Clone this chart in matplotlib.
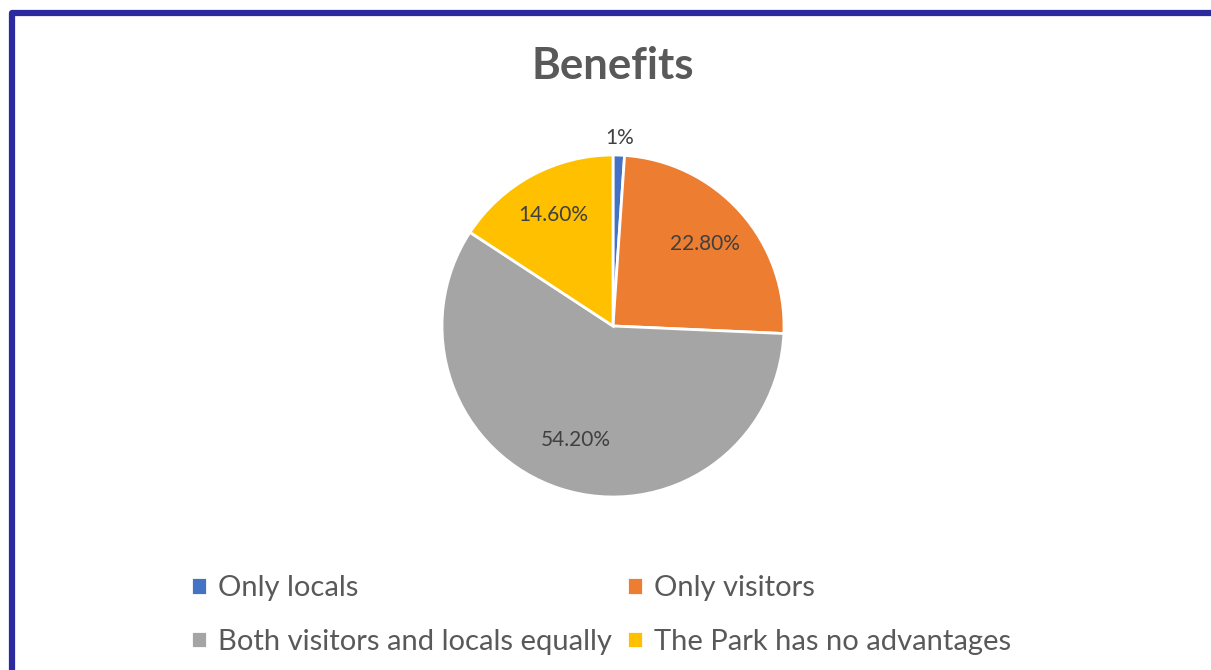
import numpy as np
import matplotlib.pyplot as plt
from matplotlib.patches import Rectangle

categories = ["Only locals", "Only visitors", "Both visitors and locals equally",
              "The Park has no advantages"]
shares = [1.0, 22.8, 54.2, 14.6]
value_labels = ["1%", "22.80%", "54.20%", "14.60%"]
colors = ["#4472C4", "#ED7D31", "#A5A5A5", "#FFC000"]

plt.rcParams["font.family"] = ["Lato", "DejaVu Sans"]
text_color = "#595959"

W, H = 1211, 670
fig = plt.figure(figsize=(W / 100, H / 100), dpi=100, facecolor="white")

# pie axes: centre (613, 326), radius ~171 px
cx, cy, r = 613, 326, 171
ax = fig.add_axes([(cx - r) / W, 1 - (cy + r) / H, 2 * r / W, 2 * r / H])
wedges, _ = ax.pie(shares, colors=colors, startangle=90, counterclock=False,
                   radius=1.0, wedgeprops=dict(edgecolor="white", linewidth=2))
ax.set_xlim(-1, 1)
ax.set_ylim(-1, 1)
ax.set_aspect("equal")

# data labels placed on each wedge's mid angle
total = sum(shares)
start = 90.0
label_r = [1.1, 0.72, 0.7, 0.74]
for i, v in enumerate(shares):
    sweep = 360.0 * v / total
    mid = np.deg2rad(start - sweep / 2)
    start -= sweep
    ax.text(label_r[i] * np.cos(mid), label_r[i] * np.sin(mid), value_labels[i],
            ha="center", va="center", fontsize=15, color="#404040")

fig.text(cx / W, 1 - 66 / H, "Benefits", ha="center", va="center",
         fontsize=31.5, fontweight="bold", color=text_color)

# legend, two columns filled row by row
order = [0, 2, 1, 3]
fig.legend([wedges[i] for i in order], [categories[i] for i in order],
           ncol=2, loc="center", bbox_to_anchor=(601 / W, 1 - 615 / H),
           frameon=False, fontsize=21, labelcolor=text_color,
           handlelength=0.55, handleheight=0.55, handletextpad=0.4,
           columnspacing=0.5, labelspacing=0.95)

# chart frame: only top and left edges are inside the image
fig.patches.append(Rectangle((12 / W, -0.1), 1.2, 1 - 13.5 / H + 0.1,
                             transform=fig.transFigure, fill=False,
                             edgecolor="#2B2A9E", linewidth=4.5,
                             joinstyle="round"))

fig.savefig("out.png", dpi=100, facecolor="white")
